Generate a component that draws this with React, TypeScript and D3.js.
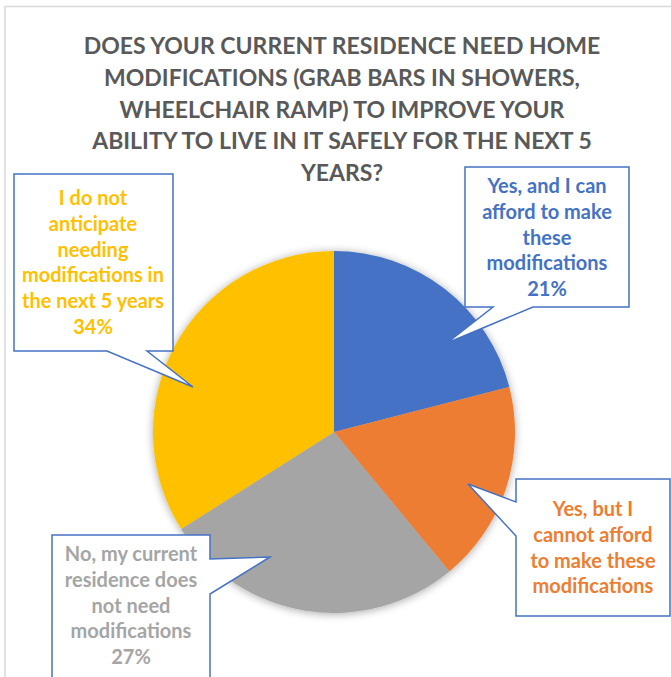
import React from "react";
import * as d3 from "d3";

const titleLines = [
  "DOES YOUR CURRENT RESIDENCE NEED HOME",
  "MODIFICATIONS (GRAB BARS IN SHOWERS,",
  "WHEELCHAIR RAMP) TO IMPROVE YOUR",
  "ABILITY TO LIVE IN IT SAFELY FOR THE NEXT 5",
  "YEARS?",
];

const categories = [
  "Yes, and I can afford to make these modifications",
  "Yes, but I cannot afford to make these modifications",
  "No, my current residence does not need modifications",
  "I do not anticipate needing modifications in the next 5 years",
];
const values = [21, 18, 27, 34];
const colors = ["#4472C4", "#ED7D31", "#A5A5A5", "#FFC000"];
const labelLines = [
  ["Yes, and I can", "afford to make", "these", "modifications"],
  ["Yes, but I", "cannot afford", "to make these", "modifications"],
  ["No, my current", "residence does", "not need", "modifications"],
  ["I do not", "anticipate", "needing", "modifications in", "the next 5 years"],
];
const showPercent = [true, false, true, true];

// callout layout: box rect, pointer base points and tip
const callouts = [
  { x0: 465, y0: 167, x1: 629, y1: 307, side: "bottom", b0: 493, b1: 533, tip: [447, 343], cx: 547, by: 193 },
  { x0: 516, y0: 479, x1: 670, y1: 616, side: "left", b0: 502, b1: 536, tip: [468, 484], cx: 593, by: 516 },
  { x0: 52, y0: 535, x1: 210, y1: 700, side: "right", b0: 559, b1: 594, tip: [270, 557], cx: 131, by: 561 },
  { x0: 14, y0: 174, x1: 173, y1: 351, side: "bottom", b0: 107, b1: 147, tip: [193, 387], cx: 93, by: 205 },
];

function calloutPath(c: any) {
  const { x0, y0, x1, y1, side, b0, b1, tip } = c;
  const p: [number, number][] = [];
  if (side === "bottom") {
    p.push([x0, y0], [x1, y0], [x1, y1], [b1, y1], [tip[0], tip[1]], [b0, y1], [x0, y1]);
  } else if (side === "left") {
    p.push([x0, y0], [x1, y0], [x1, y1], [x0, y1], [x0, b1], [tip[0], tip[1]], [x0, b0]);
  } else {
    p.push([x0, y0], [x1, y0], [x1, b0], [tip[0], tip[1]], [x1, b1], [x1, y1], [x0, y1]);
  }
  return "M" + p.map((q) => q.join(",")).join("L") + "Z";
}

export default function App() {
  const W = 671;
  const H = 677;
  const cx = 334;
  const cy = 432;
  const r = 181;
  const total = d3.sum(values);
  const pie = d3.pie<number>().sort(null).startAngle(0).endAngle(2 * Math.PI)(values);
  const arc = d3.arc<d3.PieArcDatum<number>>().innerRadius(0).outerRadius(r);
  const font = "Lato, 'Open Sans', sans-serif";
  const lh = 25.8;

  return (
    <svg width={W} height={H} style={{ position: "absolute", left: 0, top: 0, background: "#fff" }}>
      <defs>
        <filter id="shadow" x="-20%" y="-20%" width="140%" height="140%">
          <feDropShadow dx="0" dy="1" stdDeviation="4" floodColor="#000" floodOpacity="0.35" />
        </filter>
      </defs>
      <rect x={5} y={6.5} width={W + 20} height={H + 20} fill="#fff" stroke="#d9d9d9" strokeWidth={1.5} />
      <g fontFamily={font} fontWeight={700} fontSize={23} fill="#595959" textAnchor="middle">
        {titleLines.map((t, i) => (
          <text key={i} x={342} y={54 + i * 31.8}>
            {t}
          </text>
        ))}
      </g>
      <g transform={`translate(${cx},${cy})`} filter="url(#shadow)">
        {pie.map((d, i) => (
          <path key={i} d={arc(d) as string} fill={colors[i]} />
        ))}
      </g>
      {callouts.map((c, i) => {
        const lines = showPercent[i]
          ? [...labelLines[i], `${Math.round((values[i] / total) * 100)}%`]
          : labelLines[i];
        return (
          <g key={i}>
            <path d={calloutPath(c)} fill="#fff" stroke="#4472C4" strokeWidth={1.5} strokeLinejoin="miter" />
            <g fontFamily={font} fontWeight={700} fontSize={20} fill={colors[i]} textAnchor="middle">
              {lines.map((t, j) => (
                <text key={j} x={c.cx} y={c.by + j * lh}>
                  {t}
                </text>
              ))}
            </g>
          </g>
        );
      })}
    </svg>
  );
}
